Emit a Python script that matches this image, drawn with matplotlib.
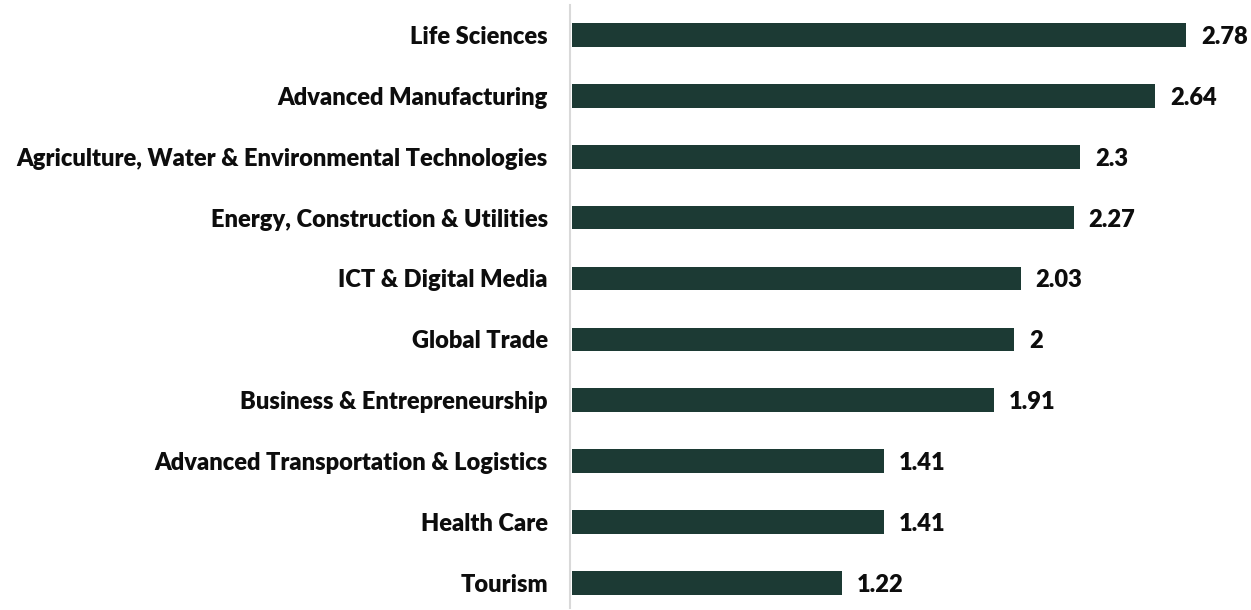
import matplotlib
matplotlib.use("Agg")
import matplotlib.pyplot as plt
from matplotlib.transforms import blended_transform_factory, offset_copy

categories = [
    "Life Sciences",
    "Advanced Manufacturing",
    "Agriculture, Water & Environmental Technologies",
    "Energy, Construction & Utilities",
    "ICT & Digital Media",
    "Global Trade",
    "Business & Entrepreneurship",
    "Advanced Transportation & Logistics",
    "Health Care",
    "Tourism",
]
values = [2.78, 2.64, 2.3, 2.27, 2.03, 2, 1.91, 1.41, 1.41, 1.22]
value_labels = ["2.78", "2.64", "2.3", "2.27", "2.03", "2", "1.91", "1.41", "1.41", "1.22"]

plt.rcParams['font.family'] = ['Lato', 'DejaVu Sans']

fig = plt.figure(figsize=(12.51, 6.10), dpi=100)
ax = fig.add_axes([572/1251, 2/610, (1235-572)/1251, 603/610])

ypos = list(range(len(categories)))
ax.barh(ypos, values, height=0.39, color="#1c3a34", left=0)
ax.set_xlim(0, 3.0)
ax.set_ylim(9.41, -0.49)
ax.set_yticks([])
ax.set_xticks([])
for s in ["top", "right", "bottom"]:
    ax.spines[s].set_visible(False)
ax.spines["left"].set_color("#d9d9d9")
ax.spines["left"].set_linewidth(1.5)
ax.spines["left"].set_position(("outward", 1.5))

trans = offset_copy(blended_transform_factory(ax.transAxes, ax.transData),
                    fig=fig, x=-24, y=-2, units="dots")
for y, cat in zip(ypos, categories):
    ax.text(0, y, cat, transform=trans, ha="right", va="center",
            fontsize=17, fontweight=800, color="#0d0d0d")

vtrans = offset_copy(ax.transData, fig=fig, x=15, y=-2, units="dots")
for y, v, lab in zip(ypos, values, value_labels):
    ax.text(v, y, lab, transform=vtrans, va="center", ha="left",
            fontsize=17, fontweight=800, color="#0d0d0d")

fig.savefig("out.png", dpi=100)
